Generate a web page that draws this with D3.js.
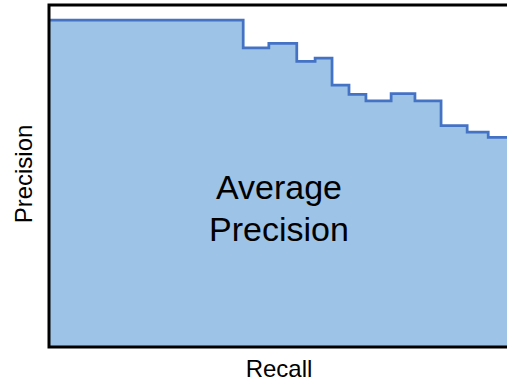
<!DOCTYPE html>
<html lang="en">
<head>
<script src="https://d3js.org/d3.v7.min.js"></script>
<style>
    body { margin: 0; background: #fff; }
    svg { display: block; }
    text { font-family: "Liberation Sans", Arial, sans-serif; fill: #000; }
</style>
</head>
<body>
<div id="container"></div>
<script>
    // recall at each step start, precision level from there on
    const recall = [0, 0.424, 0.480, 0.541, 0.581, 0.618, 0.655, 0.692, 0.747, 0.799, 0.856, 0.913, 0.959, 1.0];
    const precision = [0.956, 0.875, 0.888, 0.835, 0.845, 0.766, 0.739, 0.720, 0.741, 0.720, 0.647, 0.628, 0.613, 0.613];
    const xTitle = "Recall",
        yTitle = "Precision",
        areaLabel = ["Average", "Precision"];

    var width = 507,
        height = 380;

    var x = d3.scaleLinear().domain([0, 1]).range([49, 507]);
    var y = d3.scaleLinear().domain([0, 1]).range([347, 5]);

    var data = recall.map(function(r, i) { return {r: r, p: precision[i]}; });

    var svg = d3.select("#container")
                .append("svg")
                .attr("width", width)
                .attr("height", height);

    var area = d3.area()
                .curve(d3.curveStepAfter)
                .x(function(d) { return x(d.r); })
                .y0(y(0))
                .y1(function(d) { return y(d.p); });

    var line = d3.line()
                .curve(d3.curveStepAfter)
                .x(function(d) { return x(d.r); })
                .y(function(d) { return y(d.p); });

    svg.append("path")
        .datum(data)
        .attr("d", area)
        .attr("fill", "#9dc3e6");

    svg.append("path")
        .datum(data)
        .attr("d", line)
        .attr("fill", "none")
        .attr("stroke", "#4472c4")
        .attr("stroke-width", 2.75);

    // frame: left, bottom, top
    svg.append("path")
        .attr("d", "M" + x(1) + "," + y(1) + "H" + x(0) + "V" + y(0) + "H" + x(1))
        .attr("fill", "none")
        .attr("stroke", "#000")
        .attr("stroke-width", 3);

    svg.append("text")
        .attr("x", 279)
        .attr("y", 376.5)
        .attr("text-anchor", "middle")
        .style("font-size", "24px")
        .text(xTitle);

    svg.append("text")
        .attr("transform", "translate(32,174) rotate(-90)")
        .attr("text-anchor", "middle")
        .style("font-size", "24px")
        .text(yTitle);

    svg.selectAll(".lbl")
        .data(areaLabel)
        .enter()
        .append("text")
        .attr("class", "lbl")
        .attr("x", 279)
        .attr("y", function(d, i) { return 199 + i * 41.5; })
        .attr("text-anchor", "middle")
        .style("font-size", "34px")
        .text(function(d) { return d; });
</script>
</body>
</html>
